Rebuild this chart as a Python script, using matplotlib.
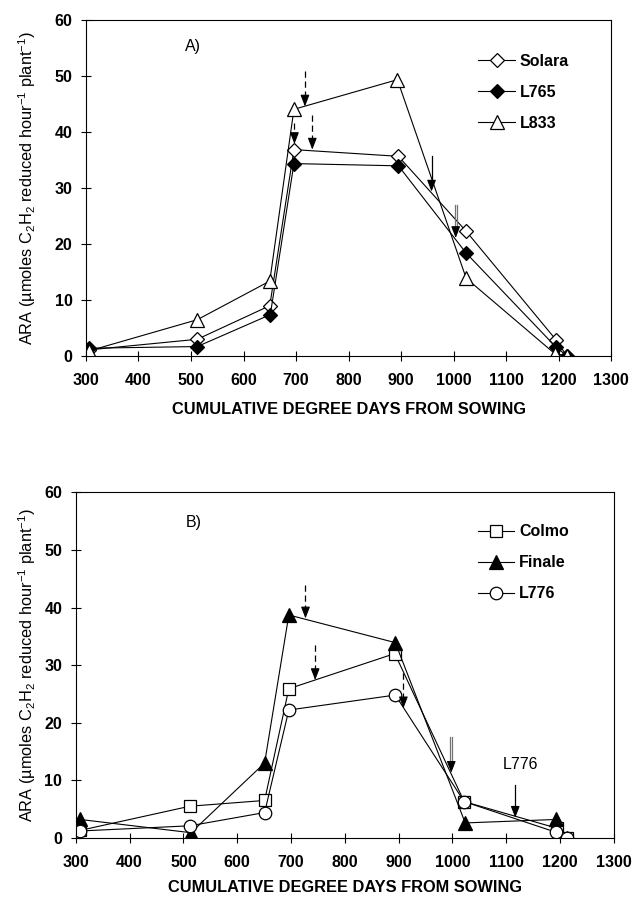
import matplotlib
matplotlib.use('Agg')
import matplotlib.pyplot as plt

plt.rcParams['font.family'] = ['Liberation Sans', 'DejaVu Sans']
plt.rcParams['mathtext.fontset'] = 'custom'
plt.rcParams['mathtext.rm'] = 'Liberation Sans'
plt.rcParams['mathtext.it'] = 'Liberation Sans:italic'
plt.rcParams['mathtext.bf'] = 'Liberation Sans:bold'

# ── Panel A data ──────────────────────────────────────────────────────────────
solara_x = [305, 512, 650, 696, 895, 1024, 1195, 1215]
solara_y = [1.0, 2.9, 8.9, 36.8, 35.6, 22.2, 2.8, 0.0]
l765_x = [305, 512, 651, 696, 895, 1024, 1195, 1215]
l765_y = [1.3, 1.6, 7.3, 34.3, 33.9, 18.3, 1.5, 0.0]
l833_x = [305, 512, 650, 696, 893, 1024, 1193, 1215]
l833_y = [0.8, 6.4, 13.3, 44.0, 49.3, 13.8, 0.3, 0.0]

# ── Panel B data ──────────────────────────────────────────────────────────────
colmo_x = [308, 512, 651, 696, 893, 1022, 1194, 1213]
colmo_y = [1.3, 5.5, 6.5, 25.9, 32.0, 6.3, 1.7, 0.0]
finale_x = [308, 514, 651, 696, 894, 1024, 1192, 1213]
finale_y = [3.2, 0.9, 13.0, 38.7, 33.9, 2.6, 3.2, 0.0]
l776_x = [308, 512, 651, 696, 894, 1022, 1192, 1213]
l776_y = [1.2, 2.1, 4.4, 22.2, 24.8, 6.3, 1.0, 0.0]

# arrows: (x, y_start, y_tip, kind)
arrows_a = [(717, 50.8, 44.5, 'dashed'), (731, 43.0, 36.8, 'dashed'),
            (697, 41.5, 37.8, 'dashed'),
            (958, 35.6, 29.3, 'solid'), (1004, 26.9, 21.0, 'double')]
arrows_b = [(727, 43.9, 38.1, 'dashed'), (745, 33.5, 27.4, 'dashed'),
            (909, 28.6, 22.5, 'dashed'),
            (998, 17.6, 11.3, 'double'), (1117, 9.2, 3.5, 'solid')]

ylabel = 'ARA (µmoles C$_2$H$_2$ reduced hour$^{-1}$ plant$^{-1}$)'
xlabel = 'CUMULATIVE DEGREE DAYS FROM SOWING'
xticks = list(range(300, 1301, 100))
yticks = list(range(0, 61, 10))


def draw_arrow(ax, x, y0, y1, kind):
    head = 1.9
    if kind == 'double':
        for dx in (-1.8, 1.8):
            ax.plot([x + dx, x + dx], [y0, y1 + head * 0.6], color='0.45', lw=0.9)
    else:
        ls = (0, (5, 3)) if kind == 'dashed' else '-'
        ax.plot([x, x], [y0, y1 + head * 0.6], color='black', lw=0.9, ls=ls)
    ax.annotate('', xy=(x, y1), xytext=(x, y1 + head),
                arrowprops=dict(arrowstyle='-|>,head_length=0.7,head_width=0.27',
                                color='black', lw=0.8, shrinkA=0, shrinkB=0))


def style_axes(ax, lab_y, xlab_y, leg_xy):
    ax.set_xlim(300, 1300)
    ax.set_ylim(0, 60)
    ax.set_xticks(xticks)
    ax.set_yticks(yticks)
    ax.tick_params(direction='inout', length=6.5, width=0.8, labelsize=11.5)
    ax.tick_params(axis='x', pad=9)
    ax.tick_params(axis='y', pad=6.5)
    for lab in ax.get_xticklabels() + ax.get_yticklabels():
        lab.set_fontweight('bold')
    for sp in ax.spines.values():
        sp.set_linewidth(0.8)
    ax.set_ylabel(ylabel, fontsize=11.8)
    ax.yaxis.set_label_coords(lab_y, 0.5)
    ax.set_xlabel(xlabel, fontsize=11.8, fontweight='bold')
    ax.xaxis.set_label_coords(0.5, xlab_y)
    leg = ax.legend(loc='upper left', frameon=False, fontsize=11.5,
                    handlelength=2.3, handletextpad=0.3, labelspacing=1.0,
                    bbox_to_anchor=leg_xy, borderaxespad=0, borderpad=0)
    for t in leg.get_texts():
        t.set_fontweight('bold')


fig = plt.figure(figsize=(6.32, 9.0), dpi=100)
ax1 = fig.add_axes([0.136, 0.605, 0.831, 0.373])
ax2 = fig.add_axes([0.120, 0.069, 0.851, 0.384])

kw = dict(color='black', lw=0.8, mec='black', mew=0.9)
ax1.plot(solara_x, solara_y, marker='D', ms=7, mfc='white', label='Solara', **kw)
ax1.plot(l765_x, l765_y, marker='D', ms=7, mfc='black', label='L765', **kw)
ax1.plot(l833_x, l833_y, marker='^', ms=10, mfc='white', label='L833', **kw)
for a in arrows_a:
    draw_arrow(ax1, *a)
ax1.text(504, 55.2, 'A)', fontsize=11.5, ha='center', va='center')
style_axes(ax1, -0.091, -0.14, (0.747, 0.899))

ax2.plot(colmo_x, colmo_y, marker='s', ms=9, mfc='white', label='Colmo', **kw)
ax2.plot(finale_x, finale_y, marker='^', ms=10, mfc='black', label='Finale', **kw)
ax2.plot(l776_x, l776_y, marker='o', ms=9, mfc='white', label='L776', **kw)
for a in arrows_b:
    draw_arrow(ax2, *a)
ax2.text(519, 54.8, 'B)', fontsize=11.5, ha='center', va='center')
ax2.text(1126, 12.7, 'L776', fontsize=11.5, ha='center', va='center')
style_axes(ax2, -0.071, -0.121, (0.747, 0.907))

fig.savefig('out.png', dpi=100)
